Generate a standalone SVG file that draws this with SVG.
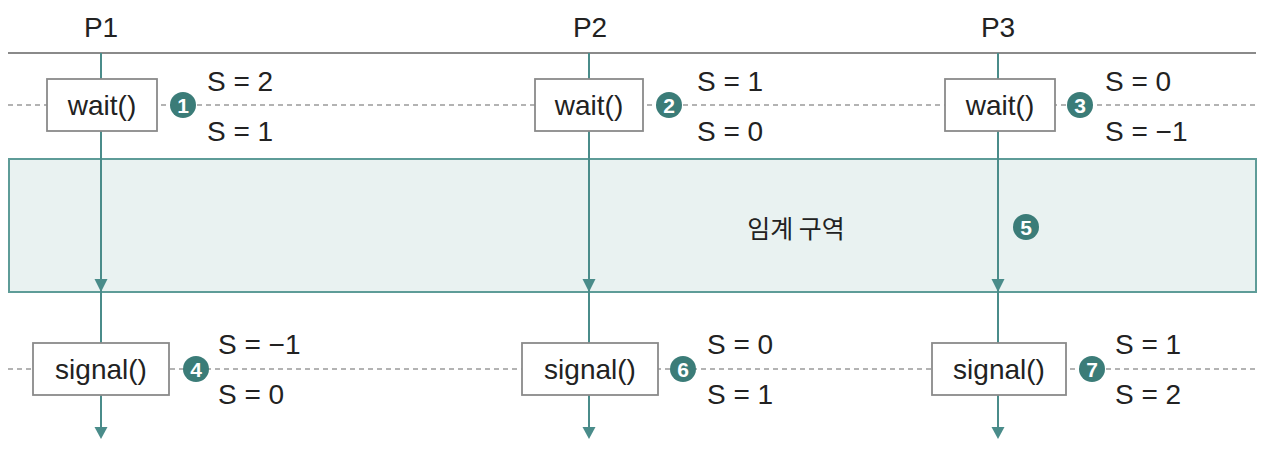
<svg xmlns="http://www.w3.org/2000/svg" width="1280" height="456" viewBox="0 0 1280 456">
<style>
.lbl{font-family:"Liberation Sans",Arial,sans-serif;font-size:28px;fill:#222}
.box{fill:#fff;stroke:#8a8a8a;stroke-width:1.8}
.life{stroke:#4a8c8a;stroke-width:2;fill:none}
.dash{stroke:#9a9a9a;stroke-width:1.5;stroke-dasharray:5 4;fill:none}
.badge{fill:#3b7c78}
.num{font-family:"Liberation Sans",Arial,sans-serif;font-size:21px;font-weight:bold;fill:#fff;text-anchor:middle}
.arr{fill:#4a8c8a}
</style>
<g id="background">
<line x1="8" y1="53" x2="1256" y2="53" stroke="#8a8a8a" stroke-width="2"/>
<line class="dash" x1="8" y1="105" x2="1256" y2="105"/>
<line class="dash" x1="8" y1="369" x2="1256" y2="369"/>
</g>
<g id="critical-section">
<rect x="9" y="159" width="1247" height="133" fill="#e9f2f1" stroke="#5e9c98" stroke-width="2"/>
<text x="796" y="238" font-family="'Noto Sans CJK KR',sans-serif" font-size="25" font-weight="400" fill="#222" text-anchor="middle">임계 구역</text>
</g>
<g id="connectors">
<line class="life" x1="101" y1="53" x2="101" y2="430"/>
<line class="life" x1="589" y1="53" x2="589" y2="430"/>
<line class="life" x1="998" y1="53" x2="998" y2="430"/>
<path class="arr" d="M94.5 279 L107.5 279 L101 292 Z"/>
<path class="arr" d="M582.5 279 L595.5 279 L589 292 Z"/>
<path class="arr" d="M991.5 279 L1004.5 279 L998 292 Z"/>
<path class="arr" d="M94.5 427 L107.5 427 L101 439 Z"/>
<path class="arr" d="M582.5 427 L595.5 427 L589 439 Z"/>
<path class="arr" d="M991.5 427 L1004.5 427 L998 439 Z"/>
</g>
<g id="P1">
<text class="lbl" x="101" y="37" text-anchor="middle">P1</text>
<g id="P1-wait"><rect class="box" x="47" y="79" width="110" height="52"/><text class="lbl" x="102" y="115" text-anchor="middle">wait()</text></g>
<g id="step1"><circle class="badge" cx="183" cy="105" r="13"/><text class="num" x="183" y="112.5">1</text></g>
<text class="lbl" x="207" y="91">S = 2</text>
<text class="lbl" x="207" y="141">S = 1</text>
<g id="P1-signal"><rect class="box" x="33" y="343" width="136" height="52"/><text class="lbl" x="101" y="379" text-anchor="middle">signal()</text></g>
<g id="step4"><circle class="badge" cx="196" cy="369" r="13"/><text class="num" x="196" y="376.5">4</text></g>
<text class="lbl" x="218" y="354">S = −1</text>
<text class="lbl" x="218" y="404">S = 0</text>
</g>
<g id="P2">
<text class="lbl" x="590" y="37" text-anchor="middle">P2</text>
<g id="P2-wait"><rect class="box" x="535" y="79" width="108" height="52"/><text class="lbl" x="589" y="115" text-anchor="middle">wait()</text></g>
<g id="step2"><circle class="badge" cx="669" cy="105" r="13"/><text class="num" x="669" y="112.5">2</text></g>
<text class="lbl" x="697" y="91">S = 1</text>
<text class="lbl" x="697" y="141">S = 0</text>
<g id="P2-signal"><rect class="box" x="522" y="343" width="136" height="52"/><text class="lbl" x="590" y="379" text-anchor="middle">signal()</text></g>
<g id="step6"><circle class="badge" cx="683" cy="369" r="13"/><text class="num" x="683" y="376.5">6</text></g>
<text class="lbl" x="707" y="354">S = 0</text>
<text class="lbl" x="707" y="404">S = 1</text>
</g>
<g id="P3">
<text class="lbl" x="998" y="37" text-anchor="middle">P3</text>
<g id="P3-wait"><rect class="box" x="945" y="79" width="110" height="52"/><text class="lbl" x="1000" y="115" text-anchor="middle">wait()</text></g>
<g id="step3"><circle class="badge" cx="1080" cy="105" r="13"/><text class="num" x="1080" y="112.5">3</text></g>
<text class="lbl" x="1105" y="91">S = 0</text>
<text class="lbl" x="1105" y="141">S = −1</text>
<g id="step5"><circle class="badge" cx="1026" cy="227" r="13"/><text class="num" x="1026" y="234.5">5</text></g>
<g id="P3-signal"><rect class="box" x="932" y="343" width="134" height="52"/><text class="lbl" x="999" y="379" text-anchor="middle">signal()</text></g>
<g id="step7"><circle class="badge" cx="1092" cy="369" r="13"/><text class="num" x="1092" y="376.5">7</text></g>
<text class="lbl" x="1115" y="354">S = 1</text>
<text class="lbl" x="1115" y="404">S = 2</text>
</g>
</svg>
